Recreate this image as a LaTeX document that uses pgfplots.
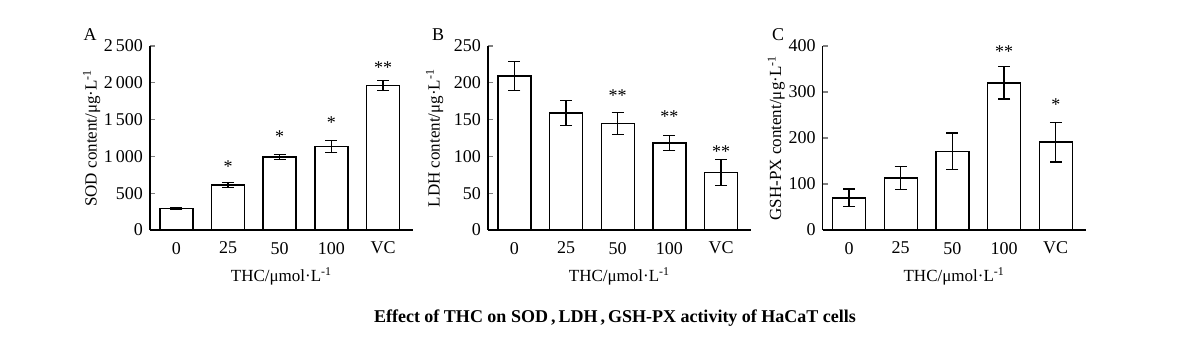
\documentclass[border=0pt]{standalone}
\usepackage{pgfplots}
\pgfplotsset{compat=1.18}
\usepackage{pgfplotstable}
\usepackage{fontspec}
\setmainfont{Liberation Serif}

\pgfplotstableread{
x y e
0 295 15
1 612 30
2 993 38
3 1137 80
4 1962 70
}\dataA
\pgfplotstableread{
x y e
0 209 20
1 159 17
2 145 15
3 118 10
4 78 18
}\dataB
\pgfplotstableread{
x y e
0 70 19
1 113 25
2 171 40
3 320 35
4 191 43
}\dataC

\newcommand\fs{\fontsize{9}{11}\selectfont}
\newcommand\fl{\fontsize{8.5}{10}\selectfont}

\pgfplotsset{
  panel/.style={
    scale only axis, width=131.5pt, height=92pt,
    anchor=south west,
    axis x line=bottom, axis y line=left,
    axis line style={-, line width=0.6pt},
    xmin=-0.51, xmax=4.58, ymin=0,
    xtick=data, xticklabels={0,25,50,100,VC},
    xtick style={draw=none},
    ytick style={line width=0.6pt},
    major tick length=2.5pt,
    tick align=inside,
    ybar, bar width=16.5pt,
    /pgf/number format/assume math mode=true,
    /pgf/number format/1000 sep={\,},
    tick label style={font=\fs},
    label style={font=\fl},
    xlabel={THC/μmol·L\textsuperscript{-1}},
    clip=false,
  },
  bars/.style={fill=white, draw=black, line width=0.7pt,
    error bars/.cd, y dir=both, y explicit,
    error bar style={line width=0.6pt, black},
    error mark options={rotate=90, mark size=3pt, line width=0.6pt, black}},
}

\begin{document}
\begin{tikzpicture}
\path[use as bounding box] (0,0) rectangle (600pt,177pt);

\begin{axis}[panel, at={(75pt,62pt)}, ymax=2500, ytick={0,500,...,2500},
  ylabel shift=-5pt,
  ylabel={SOD content/μg·L\textsuperscript{-1}}]
\addplot[bars] table[x=x, y=y, y error=e] {\dataA};
\node[font=\fs] at (axis cs:1,856) {*};
\node[font=\fs] at (axis cs:2,1264) {*};
\node[font=\fs] at (axis cs:3,1454) {*};
\node[font=\fs] at (axis cs:4,2201) {**};
\end{axis}

\begin{axis}[panel, at={(244pt,62pt)}, ymax=250, ytick={0,50,...,250},
  ylabel shift=-1.5pt,
  ylabel={LDH content/μg·L\textsuperscript{-1}}]
\addplot[bars] table[x=x, y=y, y error=e] {\dataB};
\node[font=\fs] at (axis cs:2,182) {**};
\node[font=\fs] at (axis cs:3,153.5) {**};
\node[font=\fs] at (axis cs:4,107) {**};
\end{axis}

\begin{axis}[panel, at={(411.35pt,62pt)}, ymax=400, ytick={0,100,...,400},
  ylabel shift=-5pt,
  ylabel={GSH-PX content/μg·L\textsuperscript{-1}}]
\addplot[bars] table[x=x, y=y, y error=e] {\dataC};
\node[font=\fs] at (axis cs:3,388) {**};
\node[font=\fs] at (axis cs:4,272) {*};
\end{axis}

\node[font=\fs] at (45pt,159.5pt) {A};
\node[font=\fs] at (219pt,159.5pt) {B};
\node[font=\fs] at (389pt,159.5pt) {C};
\node[font=\fs\bfseries] at (307.5pt,18pt) {Effect of THC on SOD\,,\,LDH\,,\,GSH-PX activity of HaCaT cells};
\end{tikzpicture}
\end{document}
